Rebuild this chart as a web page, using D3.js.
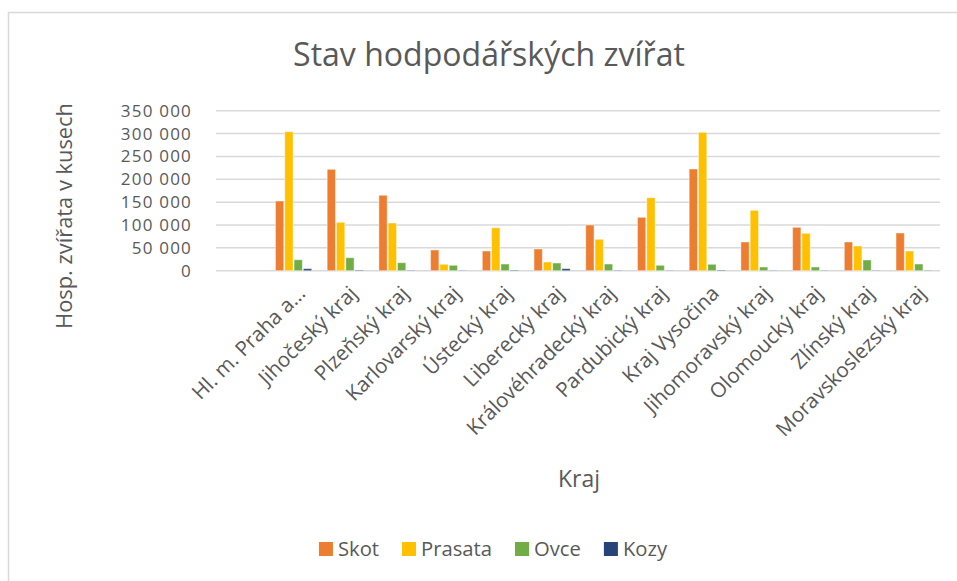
<!DOCTYPE html>
<html><head><meta charset="utf-8">
<script src="https://cdn.jsdelivr.net/npm/d3@7"></script>
<style>
html,body{margin:0;padding:0;background:#fff;}
svg{display:block;font-family:"Open Sans", sans-serif;}
</style></head>
<body><svg id="c" width="957" height="581"></svg>
<script>
const categories = ["", "Hl. m. Praha a...", "Jihočeský kraj", "Plzeňský kraj", "Karlovarský kraj", "Ústecký kraj", "Liberecký kraj", "Královéhradecký kraj", "Pardubický kraj", "Kraj Vysočina", "Jihomoravský kraj", "Olomoucký kraj", "Zlínský kraj", "Moravskoslezský kraj"];
const seriesNames = ["Skot", "Prasata", "Ovce", "Kozy"];
const skot    = [null, 152500, 221800, 165000, 45300, 43100, 47500, 100000, 116800, 222500, 62800, 94900, 62800, 82500];
const prasata = [null, 304000, 105900, 104300, 14000, 94000, 19000, 68700, 159700, 302700, 132100, 81800, 54000, 43100];
const ovce    = [null, 24000, 28400, 17500, 11800, 14600, 16800, 14600, 11800, 14000, 8100, 8100, 23400, 14600];
const kozy    = [null, 4400, 1500, 1000, 800, 1500, 4400, 1000, 800, 1500, 800, 800, 800, 800];
const yTicks = [0, 50000, 100000, 150000, 200000, 250000, 300000, 350000];
const colors = ["#ED7D31", "#FFC000", "#70AD47", "#264478"];
const title = "Stav hodpodářských zvířat";
const yTitle = "Hosp. zvířata v kusech";
const xTitle = "Kraj";

const series = [skot, prasata, ovce, kozy];
const svg = d3.select("#c");
const txt = "#595959";

function fitSize(sample, target) {
  const t = svg.append("text").text(sample).attr("font-size", 100);
  const w = t.node().getComputedTextLength();
  t.remove();
  return 100 * target / w;
}
const fsTitle = fitSize(title, 392);
const fsCat = fitSize("Hl. m. Praha a...", 150);
const fsYT = fitSize(yTitle, 226);
const fsXT = fitSize(xTitle, 42);
const fsLeg = fitSize("Prasata", 71);
const fsTick = 17;
// letter spacing so tick labels reach their width in the reference
const tickLS = (() => {
  const t = svg.append("text").text("350 000").attr("font-size", fsTick);
  const w = t.node().getComputedTextLength();
  t.remove();
  return Math.max(0, Math.min(1.2, (73 - w) / 7));
})();

svg.append("rect").attr("x", 8.5).attr("y", 12.5).attr("width", 1000).attr("height", 1000)
  .attr("fill", "#fff").attr("stroke", "#d9d9d9").attr("stroke-width", 1.5);

const L = 216, R = 940, T = 110.7, B = 270.7;
const x = d3.scaleBand().domain(categories.map((c, i) => i)).range([L, R]).padding(0);
const y = d3.scaleLinear().domain([0, 350000]).range([B, T]);

svg.append("g").selectAll("line").data(yTicks).join("line")
  .attr("x1", L).attr("x2", R).attr("y1", d => y(d)).attr("y2", d => y(d))
  .attr("stroke", "#d9d9d9").attr("stroke-width", 1.5);

const fmt = d => d3.format(",")(d).replace(/,/g, " ");
const yAxis = d3.axisLeft(y).tickValues(yTicks).tickFormat(fmt).tickSize(0).tickPadding(0);
const ya = svg.append("g").attr("transform", `translate(192,0)`).call(yAxis);
ya.select(".domain").remove();
ya.selectAll("text").attr("fill", txt).attr("font-size", fsTick).attr("font-family", "Open Sans")
  .attr("letter-spacing", tickLS);

const bw = x.bandwidth();
const pitch = bw * 0.18;
const groupW = pitch * 4;
const inner = d3.scaleBand().domain(d3.range(4)).range([(bw - groupW) / 2, (bw + groupW) / 2]).padding(0);
const gs = svg.append("g");
series.forEach((vals, si) => {
  gs.append("g").selectAll("rect").data(vals.map((v, i) => ({v, i})).filter(d => d.v != null)).join("rect")
    .attr("x", d => x(d.i) + inner(si) + 0.5)
    .attr("width", inner.bandwidth() - 1)
    .attr("y", d => y(d.v))
    .attr("height", d => B - y(d.v))
    .attr("fill", colors[si])
    .attr("stroke", "#ffffff").attr("stroke-opacity", 0.45).attr("stroke-width", 1);
});

const xa = svg.append("g");
categories.forEach((c, i) => {
  if (!c) return;
  const cx = x(i) + bw / 2;
  xa.append("text").text(c)
    .attr("transform", `translate(${cx + 8},${B + 19}) rotate(-45)`)
    .attr("text-anchor", "end").attr("dy", "0.35em")
    .attr("fill", txt).attr("font-size", fsCat);
});

svg.append("text").text(title).attr("x", 489).attr("y", 66).attr("text-anchor", "middle")
  .attr("fill", txt).attr("font-size", fsTitle);

svg.append("text").text(yTitle).attr("transform", "translate(72,216) rotate(-90)")
  .attr("text-anchor", "middle").attr("fill", txt).attr("font-size", fsYT);

svg.append("text").text(xTitle).attr("x", 579).attr("y", 487).attr("text-anchor", "middle")
  .attr("fill", txt).attr("font-size", fsXT);

const lg = svg.append("g");
let lx = 0;
seriesNames.forEach((n, i) => {
  const g = lg.append("g").attr("transform", `translate(${lx},0)`);
  g.append("rect").attr("x", 0).attr("y", 542).attr("width", 14).attr("height", 14).attr("fill", colors[i]);
  const t = g.append("text").text(n).attr("x", 19).attr("y", 556).attr("fill", txt).attr("font-size", fsLeg);
  const w = t.node().getComputedTextLength();
  lx += 19 + w + 23;
});
const totalW = lx - 23;
lg.attr("transform", `translate(${493 - totalW / 2},0)`);
</script></body></html>
